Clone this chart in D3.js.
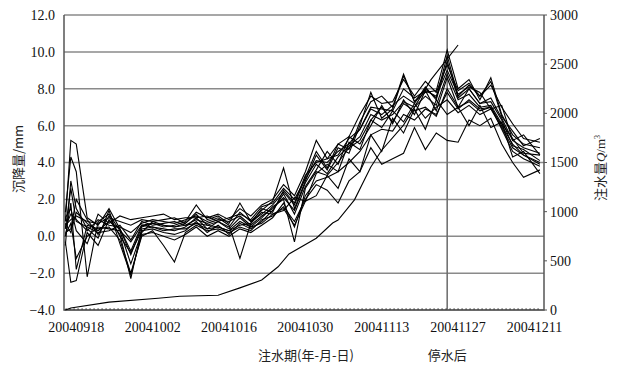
<!DOCTYPE html>
<html>
<head>
<meta charset="utf-8">
<script src="https://cdn.jsdelivr.net/npm/d3@7"></script>
<style>
  body { margin: 0; background: #fff; }
  text { font-family: "Liberation Serif", "DejaVu Serif", serif; fill: #111; }
  .cjk { font-family: "Noto Sans CJK SC", sans-serif; fill: #222; }
</style>
</head>
<body>
<svg id="chart" width="619" height="365"></svg>
<script>
// measurement dates of the settlement points
const dates = [
  '2004-09-16', '2004-09-17', '2004-09-18', '2004-09-20', '2004-09-22', '2004-09-24', '2004-09-26', '2004-09-28', '2004-09-30',
  '2004-10-02', '2004-10-04', '2004-10-06', '2004-10-08', '2004-10-10', '2004-10-12', '2004-10-14', '2004-10-16', '2004-10-18',
  '2004-10-20', '2004-10-22', '2004-10-24', '2004-10-26', '2004-10-28', '2004-10-30',
  '2004-11-01', '2004-11-03', '2004-11-05', '2004-11-07', '2004-11-09', '2004-11-11', '2004-11-13', '2004-11-15', '2004-11-17',
  '2004-11-19', '2004-11-21', '2004-11-23', '2004-11-25', '2004-11-27', '2004-11-29',
  '2004-12-01', '2004-12-03', '2004-12-05', '2004-12-07', '2004-12-09', '2004-12-12'
];

// settlement (mm) of each measuring point
const p1 = [0.8, 5.2, 5.0, 1.0, 0.6, 1.5, 0.4, -0.8, 0.6, 0.7, 0.5, 0.6, 0.8, 1.7, 0.9, 1.1, 0.7, 1.8, 0.8, 1.4, 1.9, 3.7, 1.5, 3.0, 4.4, 3.6, 4.8, 4.5, 6.0, 7.8, 6.4, 6.9, 8.7, 7.3, 7.8, 7.9, 10.1, 8.0, 8.5, 7.4, 8.6, 6.6, 5.5, 5.0, 4.8];
const p2 = [-0.3, -2.5, -2.4, 0.2, -0.5, 0.9, 0.1, -2.3, 0.4, 0.5, 0.4, 0.3, 0.5, 1.0, 0.4, 0.8, 0.4, 1.0, 0.5, 1.0, 1.6, 2.0, -0.3, 2.6, 3.5, 3.3, 4.0, 4.8, 5.2, 6.3, 7.0, 6.2, 7.2, 6.8, 7.0, 6.5, 8.0, 7.0, 7.3, 6.8, 7.0, 5.8, 4.6, 4.2, 3.8];
const p3 = [1.3, 4.3, 3.5, -2.2, 0.8, 1.2, 0.3, -1.5, 0.2, 0.8, 0.6, 0.5, 0.6, 0.7, 0.6, 0.5, 0.3, 0.6, 0.7, 1.5, 1.3, 2.5, 1.8, 3.3, 4.0, 4.2, 4.4, 5.3, 5.8, 6.9, 6.6, 7.1, 7.6, 7.2, 8.1, 7.4, 9.5, 7.5, 8.0, 7.2, 7.5, 6.4, 5.2, 4.8, 4.5];
const p4 = [0.0, 1.8, -1.8, 0.6, 0.4, 0.5, -0.2, -2.0, 0.0, 0.3, -0.5, -1.4, 0.2, 0.6, 0.3, 0.4, 0.2, 0.5, 0.3, 0.9, 1.1, 1.6, 0.8, 2.0, 2.8, 2.5, 1.8, 3.0, 3.5, 4.8, 3.9, 4.2, 4.5, 5.9, 4.7, 5.6, 5.2, 5.1, 6.3, 6.0, 6.4, 5.0, 4.0, 3.2, 3.6];
const p5 = [0.5, 1.2, 0.9, 0.3, 0.9, 0.6, 0.5, 0.2, 0.7, 0.9, 0.8, 0.7, 0.9, 1.1, 0.8, 1.0, 0.6, -1.2, 0.7, 1.3, 1.2, 1.4, 2.1, 1.9, 3.4, 3.9, 3.5, 5.1, 4.7, 6.3, 5.9, 6.8, 6.2, 7.2, 6.4, 7.0, 7.4, 6.7, 7.1, 6.6, 6.9, 5.9, 4.8, 4.4, 4.0];
const p6 = [0.6, 0.9, 1.1, 0.8, 0.7, 1.0, 0.8, 0.6, 0.9, 0.8, 0.9, 1.0, 0.7, 1.3, 1.0, 1.2, 0.9, 1.5, 1.1, 1.7, 2.0, 2.8, 2.2, 3.5, 5.2, 4.2, 5.0, 5.4, 6.6, 7.6, 7.2, 7.3, 8.5, 7.6, 8.4, 7.8, 9.3, 7.9, 8.3, 7.6, 8.2, 7.0, 6.1, 5.3, 5.1];
const p7 = [0.2, 0.4, 2.0, 0.9, 0.1, 1.1, 0.0, -0.9, 0.3, 0.4, 0.2, 0.1, 0.3, 0.8, 0.2, 0.6, 0.1, 0.7, 0.4, 0.8, 1.4, 2.3, 1.2, 2.7, 3.6, 4.6, 3.9, 5.4, 5.0, 6.0, 7.1, 6.1, 7.4, 6.6, 7.9, 6.8, 8.6, 7.0, 8.0, 7.2, 7.3, 6.3, 4.9, 4.7, 4.1];
const p8 = [-0.5, 3.0, 1.5, 0.4, -0.1, 1.4, -0.4, -2.1, 0.1, 0.2, 0.0, -0.2, 0.1, 0.5, 0.0, 0.3, 0.0, 0.4, 0.2, 0.6, 1.0, 1.8, 0.5, 2.2, 3.0, 3.2, 3.5, 4.0, 4.6, 5.5, 5.8, 5.7, 6.6, 6.3, 6.9, 6.6, 7.8, 6.9, 7.4, 6.9, 7.0, 6.0, 5.0, 4.4, 3.9];
const p9 = [1.0, 1.5, 0.3, -0.4, 1.2, 0.7, 1.1, 0.9, 1.0, 1.1, 1.2, 0.9, 1.0, 1.0, 1.1, 0.8, 1.0, 1.2, 0.9, 1.6, 1.8, 2.6, 2.0, 3.1, 4.1, 4.0, 4.6, 5.0, 5.8, 7.0, 6.9, 6.8, 8.0, 7.5, 7.9, 7.6, 9.0, 7.7, 8.1, 7.8, 6.9, 7.1, 5.2, 5.5, 4.4];
const p10 = [0.4, 2.6, 0.8, 0.5, 0.2, 0.3, 0.6, -0.2, 0.8, 0.6, 0.7, 0.8, 0.6, 0.9, 0.7, 0.9, 0.8, 1.1, 0.6, 1.1, 1.5, 2.1, 1.4, 2.9, 3.9, 3.4, 4.3, 4.9, 5.4, 6.6, 6.3, 6.6, 7.3, 7.0, 7.6, 7.1, 8.8, 7.4, 7.7, 7.0, 7.1, 6.1, 5.3, 4.5, 4.4];
const p11 = [0.1, 0.7, -1.2, 0.0, 0.5, 0.4, 0.3, -0.3, 0.6, 0.5, 0.3, 0.4, 0.4, 0.7, 0.4, 0.5, 0.3, 0.8, 0.5, 0.7, 1.2, 1.5, 0.6, 1.9, 2.2, 3.3, 2.6, 4.2, 3.5, 5.5, 4.6, 6.4, 5.6, 6.9, 5.8, 7.4, 6.6, 7.0, 6.0, 7.1, 5.9, 6.2, 4.3, 4.6, 3.4];
const p12 = [0.7, 0.2, 1.3, 0.7, 0.3, 0.8, 0.4, -1.0, 0.5, 0.7, 0.6, 0.5, 0.7, 1.2, 0.6, 0.8, 0.5, 1.3, 0.8, 1.2, 1.7, 2.4, 1.7, 3.2, 4.6, 3.7, 5.0, 4.7, 6.2, 7.3, 7.6, 7.0, 8.8, 7.3, 8.0, 7.5, 9.8, 7.6, 8.2, 7.6, 8.4, 6.5, 5.7, 4.9, 5.3];
const points = [p1, p2, p3, p4, p5, p6, p7, p8, p9, p10, p11, p12];

// cumulative water injection (m3)
const injDates = ['2004-09-16', '2004-09-17', '2004-09-24', '2004-10-03', '2004-10-07', '2004-10-14', '2004-10-18', '2004-10-22',
  '2004-10-25', '2004-10-27', '2004-11-01', '2004-11-04', '2004-11-05', '2004-11-08', '2004-11-11', '2004-11-13',
  '2004-11-17', '2004-11-22', '2004-11-27'];
const injQ = [0, 20, 80, 120, 140, 150, 225, 305, 440, 570, 730, 885, 915, 1120, 1455, 1625, 1880, 2340, 2695];

const stopDate = '2004-11-25';
const xTicks = ['2004-09-18', '2004-10-02', '2004-10-16', '2004-10-30', '2004-11-13', '2004-11-27', '2004-12-11'];
const leftTicks = [12, 10, 8, 6, 4, 2, 0, -2, -4];
const rightTicks = [3000, 2500, 2000, 1500, 1000, 500, 0];

const parse = d3.timeParse('%Y-%m-%d');
const svg = d3.select('#chart');
const margin = { left: 64, right: 544, top: 15, bottom: 310 };

const x = d3.scaleTime()
  .domain([new Date(2004, 8, 15, 18), new Date(2004, 11, 12, 18)])
  .range([margin.left, margin.right]);
const yL = d3.scaleLinear().domain([-4, 12]).range([margin.bottom, margin.top]);
const yR = d3.scaleLinear().domain([0, 3000]).range([margin.bottom, margin.top]);

svg.append('rect').attr('width', 619).attr('height', 365).attr('fill', '#fff');

// horizontal grid lines
svg.append('g')
  .selectAll('line')
  .data(leftTicks)
  .join('line')
  .attr('x1', margin.left).attr('x2', margin.right)
  .attr('y1', d => yL(d)).attr('y2', d => yL(d))
  .attr('stroke', '#8a8a8a').attr('stroke-width', 1.5);

// stop-injection line
svg.append('line')
  .attr('x1', x(parse(stopDate))).attr('x2', x(parse(stopDate)))
  .attr('y1', margin.top).attr('y2', margin.bottom)
  .attr('stroke', '#6a6a6a').attr('stroke-width', 1.5);

// frame
svg.append('path')
  .attr('d', `M${margin.left},${margin.top}V${margin.bottom}H${margin.right}V${margin.top}`)
  .attr('fill', 'none').attr('stroke', '#555').attr('stroke-width', 1.5);

// dotted baseline at zero injection
svg.append('line')
  .attr('x1', x(parse(dates[0]))).attr('x2', x(parse(dates[dates.length - 1])))
  .attr('y1', yR(0) - 1).attr('y2', yR(0) - 1)
  .attr('stroke', '#333').attr('stroke-width', 1).attr('stroke-dasharray', '1.5,2.5');

// settlement lines
const line = d3.line()
  .x((d, i) => x(parse(dates[i])))
  .y(d => yL(d));

svg.append('g')
  .selectAll('path')
  .data(points)
  .join('path')
  .attr('d', line)
  .attr('fill', 'none')
  .attr('stroke', '#000')
  .attr('stroke-width', 1.1)
  .attr('stroke-linejoin', 'miter');

// injection curve
const injLine = d3.line()
  .x((d, i) => x(parse(injDates[i])))
  .y(d => yR(d));

svg.append('path')
  .datum(injQ)
  .attr('d', injLine)
  .attr('fill', 'none')
  .attr('stroke', '#000')
  .attr('stroke-width', 1.1);

// left axis labels
const fmt = d => (d < 0 ? '\u2212' : '') + Math.abs(d).toFixed(1);
svg.append('g')
  .selectAll('text')
  .data(leftTicks)
  .join('text')
  .attr('x', 55).attr('y', d => yL(d))
  .attr('dy', '0.35em')
  .attr('text-anchor', 'end')
  .style('font-size', '14px')
  .text(fmt);

// right axis ticks and labels
const rAxis = svg.append('g');
rAxis.selectAll('line')
  .data(rightTicks)
  .join('line')
  .attr('x1', margin.right).attr('x2', margin.right + 3)
  .attr('y1', d => yR(d)).attr('y2', d => yR(d))
  .attr('stroke', '#555');
rAxis.selectAll('text')
  .data(rightTicks)
  .join('text')
  .attr('x', 550).attr('y', d => yR(d))
  .attr('dy', '0.35em')
  .style('font-size', '14px')
  .text(d => d);

// x labels
svg.append('g')
  .selectAll('text')
  .data(xTicks)
  .join('text')
  .attr('x', d => x(parse(d)))
  .attr('y', 332)
  .attr('text-anchor', 'middle')
  .style('font-size', '14px')
  .text(d => d.replace(/-/g, ''));

// titles
svg.append('text')
  .attr('class', 'cjk')
  .attr('x', 306).attr('y', 360)
  .attr('text-anchor', 'middle')
  .style('font-size', '13px')
  .text('注水期(年-月-日)');

svg.append('text')
  .attr('class', 'cjk')
  .attr('x', x(parse(stopDate))).attr('y', 360)
  .attr('text-anchor', 'middle')
  .style('font-size', '13px')
  .text('停水后');

svg.append('text')
  .attr('class', 'cjk')
  .attr('transform', 'translate(23,159) rotate(-90)')
  .attr('text-anchor', 'middle')
  .style('font-size', '13px')
  .text('沉降量/mm');

const rt = svg.append('text')
  .attr('class', 'cjk')
  .attr('transform', 'translate(605,168) rotate(-90)')
  .attr('text-anchor', 'middle')
  .style('font-size', '13px');
rt.append('tspan').text('注水量');
rt.append('tspan').style('font-style', 'italic').style('font-family', 'Liberation Serif').text('Q');
rt.append('tspan').style('font-family', 'Liberation Serif').text('/m');
rt.append('tspan').style('font-family', 'Liberation Serif').style('font-size', '8px').attr('dy', -5).text('3');
</script>
</body>
</html>
